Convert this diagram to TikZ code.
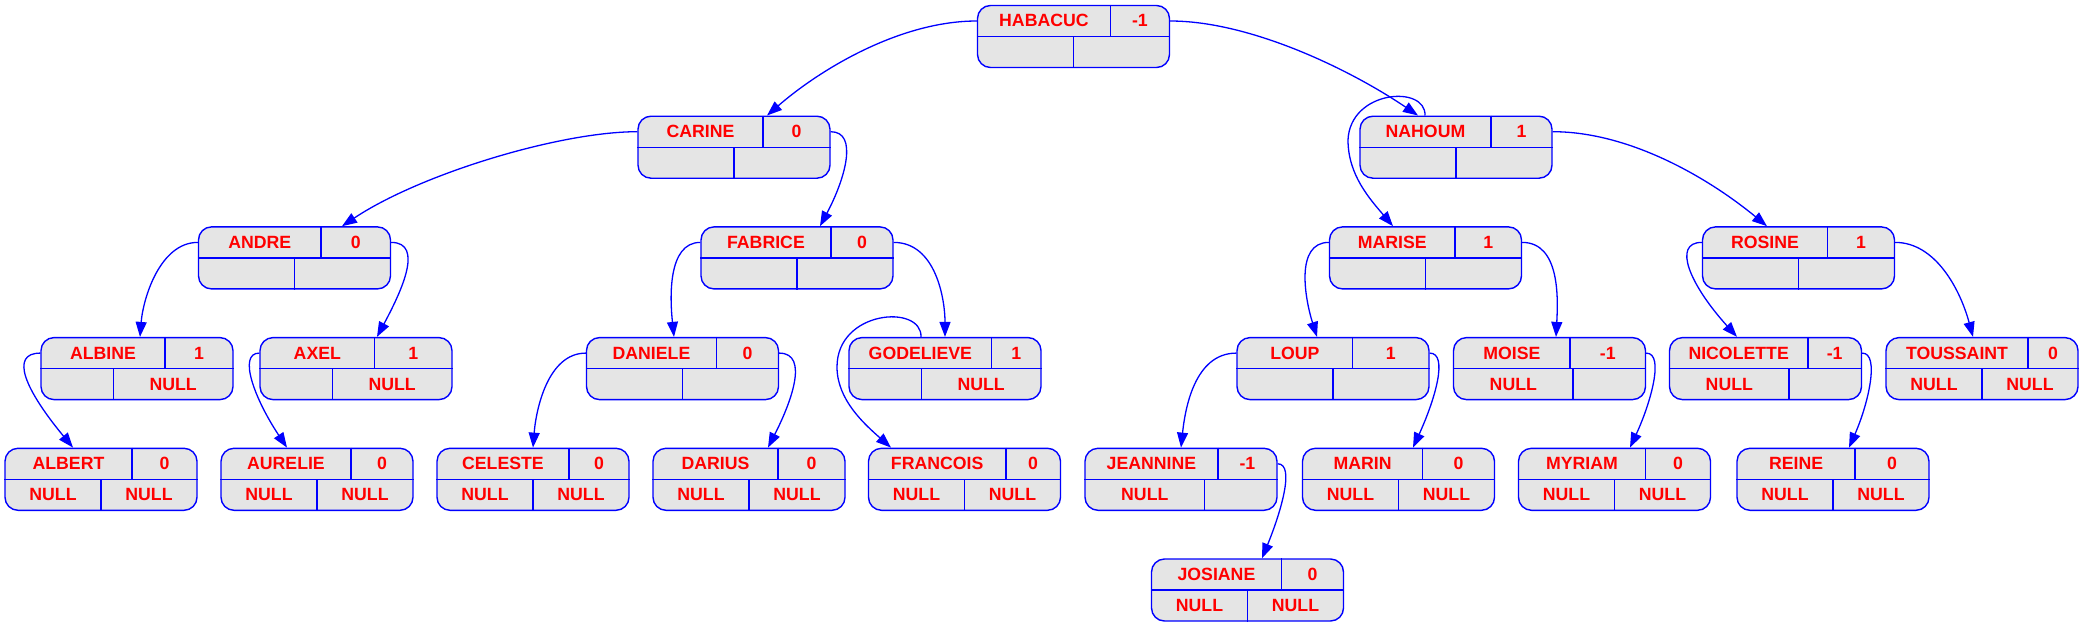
\documentclass[tikz,border=0pt]{standalone}
\usepackage{fontspec}
\setmainfont{Liberation Sans}
\usetikzlibrary{arrows.meta}
\definecolor{recfill}{RGB}{229,229,229}
\definecolor{recred}{RGB}{255,0,0}
\definecolor{recblue}{RGB}{0,0,255}
\newlength\recwa
\newlength\recwb
\font\recprim="Liberation Sans/B" at 17.7pt
\newcommand\recnode[7]{%
  \setbox0=\hbox{\recprim #4}\recwa=\wd0 \setbox0=\hbox{\recprim #5}\recwb=\wd0
  \pgfmathsetmacro\recdt{(\recwa-\recwb)/2}%
  \setbox0=\hbox{\recprim #6}\recwa=\wd0 \setbox0=\hbox{\recprim #7}\recwb=\wd0
  \pgfmathsetmacro\recdb{(\recwa-\recwb)/2}%
  \pgfmathsetmacro\recxa{-48+0.5*(\recdt)}%
  \pgfmathsetmacro\recxb{48+0.5*(\recdt)}%
  \pgfmathsetmacro\recxc{-48+0.5*(\recdb)}%
  \pgfmathsetmacro\recxd{48+0.5*(\recdb)}%
  \node[rec] (#1) at (#2,#3) {};
  \draw[recline] (#1.west) -- (#1.east);
  \draw[recline] ([xshift=\recdt pt]#1.north) -- ([xshift=\recdt pt]#1.center);
  \draw[recline] ([xshift=\recdb pt]#1.center) -- ([xshift=\recdb pt]#1.south);
  \node[rectxt] (#1-n) at ([xshift=\recxa pt,yshift=15.6pt]#1.center) {#4};
  \node[rectxt] (#1-b) at ([xshift=\recxb pt,yshift=15.6pt]#1.center) {#5};
  \if\relax\detokenize{#6}\relax\else
    \node[rectxt] (#1-l) at ([xshift=\recxc pt,yshift=-15.4pt]#1.center) {#6};\fi
  \if\relax\detokenize{#7}\relax\else
    \node[rectxt] (#1-r) at ([xshift=\recxd pt,yshift=-15.4pt]#1.center) {#7};\fi
}
\tikzset{
  rec/.style={draw=recblue, fill=recfill, rounded corners=13pt, minimum width=192pt,
    minimum height=62pt, inner sep=0pt, line width=1.4pt},
  recline/.style={draw=recblue, line width=1.4pt},
  rectxt/.style={text=recred, font=\recprim, inner sep=0pt, anchor=center},
  link/.style={draw=recblue, line width=1.3pt, -{Triangle[length=15pt,width=11pt]}}
}
\begin{document}
\begin{tikzpicture}[x=1pt,y=-1pt]
\useasboundingbox (0,0) rectangle (2083,627);
% level 0
\recnode{HABACUC}{1073.5}{36.5}{HABACUC}{-1}{}{}
% level 1
\recnode{CARINE}{734}{147.2}{CARINE}{0}{}{}
\recnode{NAHOUM}{1456}{147.2}{NAHOUM}{1}{}{}
% level 2
\recnode{ANDRE}{294.5}{257.9}{ANDRE}{0}{}{}
\recnode{FABRICE}{797}{257.9}{FABRICE}{0}{}{}
\recnode{MARISE}{1425.5}{257.9}{MARISE}{1}{}{}
\recnode{ROSINE}{1798.5}{257.9}{ROSINE}{1}{}{}
% level 3
\recnode{ALBINE}{137}{368.6}{ALBINE}{1}{}{NULL}
\recnode{AXEL}{356}{368.6}{AXEL}{1}{}{NULL}
\recnode{DANIELE}{682.5}{368.6}{DANIELE}{0}{}{}
\recnode{GODELIEVE}{945}{368.6}{GODELIEVE}{1}{}{NULL}
\recnode{LOUP}{1333}{368.6}{LOUP}{1}{}{}
\recnode{MOISE}{1549.5}{368.6}{MOISE}{-1}{NULL}{}
\recnode{NICOLETTE}{1765.5}{368.6}{NICOLETTE}{-1}{NULL}{}
\recnode{TOUSSAINT}{1982}{368.6}{TOUSSAINT}{0}{NULL}{NULL}
% level 4
\recnode{ALBERT}{101}{479.3}{ALBERT}{0}{NULL}{NULL}
\recnode{AURELIE}{317}{479.3}{AURELIE}{0}{NULL}{NULL}
\recnode{CELESTE}{533}{479.3}{CELESTE}{0}{NULL}{NULL}
\recnode{DARIUS}{749}{479.3}{DARIUS}{0}{NULL}{NULL}
\recnode{FRANCOIS}{964.5}{479.3}{FRANCOIS}{0}{NULL}{NULL}
\recnode{JEANNINE}{1181}{479.3}{JEANNINE}{-1}{NULL}{}
\recnode{MARIN}{1398.5}{479.3}{MARIN}{0}{NULL}{NULL}
\recnode{MYRIAM}{1614.5}{479.3}{MYRIAM}{0}{NULL}{NULL}
\recnode{REINE}{1833}{479.3}{REINE}{0}{NULL}{NULL}
% level 5
\recnode{JOSIANE}{1247.5}{590}{JOSIANE}{0}{NULL}{NULL}
% edges
\draw[link] ([yshift=15.5pt]HABACUC.west) .. controls +(-77,0) and +(53,-46) .. ([xshift=33pt]CARINE.north);
\draw[link] ([yshift=15.5pt]HABACUC.east) .. controls +(80,0) and +(-68,-46) .. ([xshift=-38pt]NAHOUM.north);
\draw[link] ([yshift=15.5pt]CARINE.west) .. controls +(-78,0) and +(78,-52) .. ([xshift=47.5pt]ANDRE.north);
\draw[link] ([yshift=15.5pt]CARINE.east) .. controls +(28,0) and +(25,-47) .. ([xshift=23pt]FABRICE.north);
\draw[link] ([yshift=15.5pt]ANDRE.west) .. controls +(-38,0) and +(3,-38) .. ([xshift=3pt]ALBINE.north);
\draw[link] ([yshift=15.5pt]ANDRE.east) .. controls +(34,0) and +(23,-43) .. ([xshift=21pt]AXEL.north);
\draw[link] ([yshift=15.5pt]ALBINE.west) .. controls +(-31,0) and +(-48,-58) .. ([xshift=-28pt]ALBERT.north);
\draw[link] ([yshift=15.5pt]AXEL.west) .. controls +(-22,0) and +(-32,-48) .. ([xshift=-30pt]AURELIE.north);
\draw[link] ([yshift=15.5pt]FABRICE.west) .. controls +(-33,0) and +(-4,-38) .. ([xshift=-8.5pt]DANIELE.north);
\draw[link] ([yshift=15.5pt]FABRICE.east) .. controls +(42,0) and +(0,-38) .. (GODELIEVE.north);
\draw[link] ([yshift=15.5pt]DANIELE.west) .. controls +(-38,0) and +(3,-38) .. (CELESTE.north);
\draw[link] ([yshift=15.5pt]DANIELE.east) .. controls +(31,0) and +(22,-43) .. ([xshift=19pt]DARIUS.north);
\coordinate (gf) at (837,367);
\draw[link] ([xshift=-24pt]GODELIEVE.north) .. controls +(1,-33) and +(0,-57) .. (gf) .. controls +(0,33) and +(-26,-23) .. ([xshift=-73.5pt]FRANCOIS.north);
\coordinate (nm) at (1348,140);
\draw[link] ([xshift=-31pt]NAHOUM.north) .. controls +(1,-31) and +(2,-50) .. (nm) .. controls +(0,35) and +(-23,-27) .. ([xshift=-32.5pt]MARISE.north);
\draw[link] ([yshift=15.5pt]NAHOUM.east) .. controls +(78,0) and +(-57,-47) .. ([xshift=-31.5pt]ROSINE.north);
\draw[link] ([yshift=15.5pt]MARISE.west) .. controls +(-34,0) and +(-12,-38) .. ([xshift=-16pt]LOUP.north);
\draw[link] ([yshift=15.5pt]MARISE.east) .. controls +(38,0) and +(2,-38) .. ([xshift=6.5pt]MOISE.north);
\draw[link] ([yshift=15.5pt]ROSINE.west) .. controls +(-30,0) and +(-47,-52) .. ([xshift=-28.5pt]NICOLETTE.north);
\draw[link] ([yshift=15.5pt]ROSINE.east) .. controls +(40,0) and +(-13,-48) .. ([xshift=-9pt]TOUSSAINT.north);
\draw[link] ([yshift=15.5pt]LOUP.west) .. controls +(-42,0) and +(4,-38) .. (JEANNINE.north);
\draw[link] ([yshift=15.5pt]LOUP.east) .. controls +(19,0) and +(22,-48) .. ([xshift=14.5pt]MARIN.north);
\draw[link] ([yshift=15.5pt]MOISE.east) .. controls +(19,0) and +(20,-43) .. ([xshift=15.5pt]MYRIAM.north);
\draw[link] ([yshift=15.5pt]NICOLETTE.east) .. controls +(18,0) and +(19,-43) .. ([xshift=16pt]REINE.north);
\draw[link] ([yshift=15.5pt]JEANNINE.east) .. controls +(18,0) and +(18,-44) .. ([xshift=14.5pt]JOSIANE.north);
\end{tikzpicture}
\end{document}
